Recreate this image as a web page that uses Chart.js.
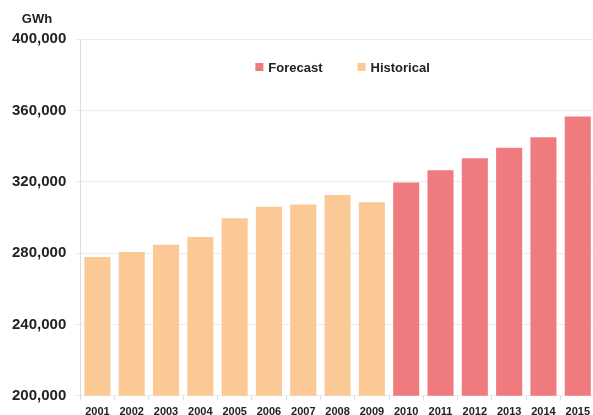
<!DOCTYPE html>
<html>
<head>
<meta charset="utf-8">
<script src="https://cdn.jsdelivr.net/npm/chart.js@4/dist/chart.umd.min.js"></script>
<style>
  html, body { margin: 0; padding: 0; background: #fff; overflow: hidden; }
  #wrap { position: relative; width: 596px; height: 425px; }
</style>
</head>
<body>
<div id="wrap"><canvas id="grafico"></canvas></div>
<script>
// Dados do gráfico (GWh)
const anos = ['2001', '2002', '2003', '2004', '2005', '2006', '2007', '2008',
              '2009', '2010', '2011', '2012', '2013', '2014', '2015'];
const historico = [277800, 280600, 284700, 289000, 299500, 305900, 307200, 312500,
                   308500, null, null, null, null, null, null];
const previsao = [null, null, null, null, null, null, null, null,
                  null, 319600, 326400, 333100, 339100, 344900, 356500];
const yTicks = [200000, 240000, 280000, 320000, 360000, 400000];

const corPrevisao = '#ef7b7f';
const corHistorico = '#fbc996';
const corTexto = '#222';

// Legenda desenhada dentro da área do gráfico
const legendaInterna = {
    id: 'legendaInterna',
    afterDraw(chart) {
        const ctx = chart.ctx;
        const area = chart.chartArea;
        ctx.save();
        ctx.font = 'bold 13px "Liberation Sans", Arial, sans-serif';
        ctx.textBaseline = 'middle';
        const box = 8, gap = 5, spacing = 35;
        const items = chart.data.datasets.map(ds => ({
            label: ds.label, color: ds.backgroundColor,
            w: box + gap + ctx.measureText(ds.label).width
        }));
        const total = items.reduce((s, it) => s + it.w, 0) + spacing * (items.length - 1);
        let x = area.left + (area.width - total) / 2 + 5;
        const y = area.top + 28;
        items.forEach(it => {
            ctx.fillStyle = it.color;
            ctx.fillRect(x, y - box / 2, box, box);
            ctx.fillStyle = corTexto;
            ctx.fillText(it.label, x + box + gap, y + 1);
            x += it.w + spacing;
        });
        // unidade no topo do eixo
        ctx.font = 'bold 13px "Liberation Sans", Arial, sans-serif';
        ctx.textAlign = 'center';
        ctx.textBaseline = 'alphabetic';
        ctx.fillText('GWh', 37, 23);
        ctx.restore();
    }
};

const ctx = document.getElementById('grafico').getContext('2d');
window.graficoEnergia = new Chart(ctx, {
    type: 'bar',
    data: {
        labels: anos,
        datasets: [
            {
                label: 'Forecast',
                data: previsao,
                backgroundColor: corPrevisao,
                barPercentage: 0.76,
                categoryPercentage: 1
            },
            {
                label: 'Historical',
                data: historico,
                backgroundColor: corHistorico,
                barPercentage: 0.76,
                categoryPercentage: 1
            }
        ]
    },
    options: {
        responsive: true,
        maintainAspectRatio: false,
        animation: false,
        layout: { padding: { top: 39, left: 3, right: 0, bottom: 0 } },
        plugins: {
            legend: { display: false },
            tooltip: { enabled: false }
        },
        scales: {
            x: {
                stacked: true,
                grid: {
                    display: true,
                    drawOnChartArea: false,
                    offset: true,
                    tickLength: 4,
                    color: '#cfdde8'
                },
                border: { display: false },
                ticks: {
                    color: corTexto,
                    padding: 6,
                    maxRotation: 0,
                    autoSkip: false,
                    font: { family: '"Liberation Sans", Arial, sans-serif', size: 11, weight: 'bold' }
                }
            },
            y: {
                min: 200000,
                max: 400000,
                afterBuildTicks: axis => { axis.ticks = yTicks.map(v => ({ value: v })); },
                grid: { color: '#ececec', tickLength: 5 },
                border: { display: true, color: '#dcdcdc' },
                ticks: {
                    color: corTexto,
                    padding: 9,
                    font: { family: '"Liberation Sans", Arial, sans-serif', size: 15, weight: 'bold' },
                    callback: v => v.toLocaleString('en-US')
                }
            }
        }
    },
    plugins: [legendaInterna]
});
</script>
</body>
</html>
